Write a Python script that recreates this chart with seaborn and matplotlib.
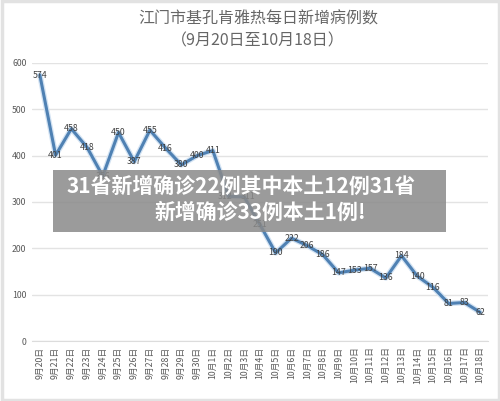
import matplotlib
matplotlib.use("Agg")
import matplotlib.pyplot as plt
import seaborn as sns
import pandas as pd
from matplotlib.patches import Rectangle

dates = ["9月20日", "9月21日", "9月22日", "9月23日", "9月24日", "9月25日", "9月26日",
         "9月27日", "9月28日", "9月29日", "9月30日", "10月1日", "10月2日", "10月3日",
         "10月4日", "10月5日", "10月6日", "10月7日", "10月8日", "10月9日", "10月10日",
         "10月11日", "10月12日", "10月13日", "10月14日", "10月15日", "10月16日",
         "10月17日", "10月18日"]
cases = [574, 401, 458, 418, 356, 450, 387, 455, 416, 380, 400, 411, 312, 311,
         251, 190, 222, 206, 186, 147, 153, 157, 136, 184, 140, 116, 81, 83, 62]
yticks = [0, 100, 200, 300, 400, 500, 600]

title = "江门市基孔肯雅热每日新增病例数\n（9月20日至10月18日）"
banner_1 = "31省新增确诊22例其中本土12例31省"
banner_2 = "新增确诊33例本土1例!"

sns.set_style("white")
plt.rcParams['font.family'] = ['Noto Sans CJK SC', 'DejaVu Sans']

df = pd.DataFrame({"pos": range(len(dates)), "cases": cases})

fig = plt.figure(figsize=(5, 4.01), dpi=100)
ax = fig.add_axes([0.064, 0.1496, 0.912, 0.6934])

# soft glow under the line, then the line itself
sns.lineplot(x="pos", y="cases", data=df, ax=ax, color='#d3e3f3', linewidth=4, zorder=2)
sns.lineplot(x="pos", y="cases", data=df, ax=ax, color='#4f81b3', linewidth=2.2, zorder=3)

for i, v in enumerate(cases):
    dx = -0.25 if i == 12 else (0.25 if i == 13 else 0)
    ax.text(i + dx, v, str(v), ha='center', va='center', fontsize=6.3, color='#404040', zorder=4)

ax.set_xlim(-0.5, len(dates) - 0.5)
ax.set_ylim(0, 600)
ax.set_yticks(yticks)
ax.set_yticklabels([str(t) for t in yticks], fontsize=6.3, color='#595959')
ax.set_xticks(range(len(dates)))
ax.set_xticklabels(dates, rotation=90, fontsize=6.3, color='#595959')
ax.tick_params(axis='both', length=0, pad=4)
ax.grid(axis='y', color='#e3e3e3', linewidth=1)
for s in ['top', 'right', 'left']:
    ax.spines[s].set_visible(False)
ax.spines['bottom'].set_color('#dcdcdc')
ax.set_xlabel('')
ax.set_ylabel('')

fig.text(0.516, 0.975, title, ha='center', va='top', fontsize=11.5, color='#666666',
         linespacing=1.45)

fig.patches.append(Rectangle((0.106, 0.4214), 0.786, 0.1546, transform=fig.transFigure,
                             facecolor='#8a8a8a', alpha=0.85, edgecolor='none', zorder=5))
fig.text(0.482, 0.535, banner_1, ha='center', va='center', fontsize=15, color='white',
         fontweight='bold', zorder=6)
fig.text(0.52, 0.47, banner_2, ha='center', va='center', fontsize=15, color='white',
         fontweight='bold', zorder=6)

fig.patches.append(Rectangle((0.003, 0.003), 0.994, 0.994, transform=fig.transFigure,
                             facecolor='none', edgecolor='#e2e2e2', linewidth=2.5, zorder=0))

fig.savefig("out.png", dpi=100)
